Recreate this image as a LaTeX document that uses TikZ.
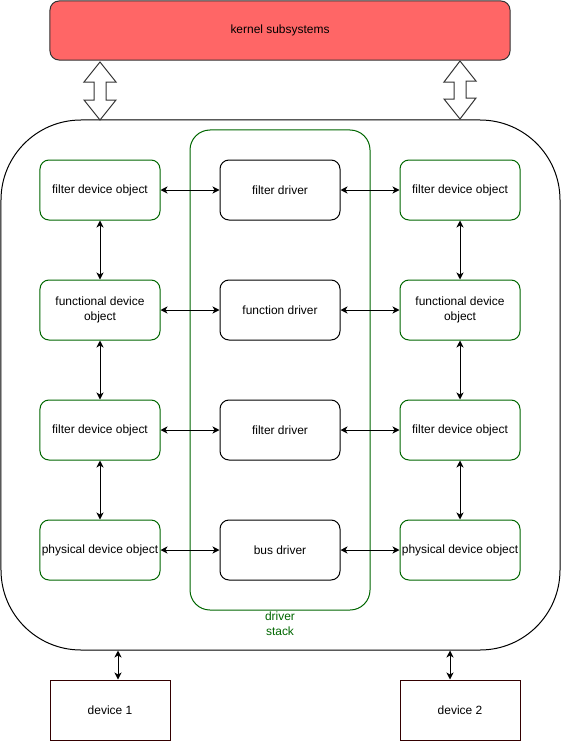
\documentclass[tikz,border=0pt]{standalone}
\usepackage{fontspec}
\setmainfont{Liberation Sans}
\usetikzlibrary{arrows.meta}
\definecolor{kred}{HTML}{FF6666}
\definecolor{dgreen}{HTML}{006600}
\definecolor{dbrown}{HTML}{330000}
\begin{document}
\begin{tikzpicture}[x=1bp,y=-1bp,
  every node/.style={font=\fontsize{12}{14.5}\selectfont, inner sep=0pt, align=center},
  objbox/.style={draw=dgreen, line width=1bp, rounded corners=9bp, minimum width=120bp, minimum height=60bp},
  drvbox/.style={draw=black, line width=1bp, rounded corners=9bp, minimum width=120bp, minimum height=60bp},
  devbox/.style={draw=dbrown, line width=1bp, minimum width=120bp, minimum height=60bp},
  conn/.style={{Stealth[length=7bp,width=7bp,inset=2bp]}-{Stealth[length=7bp,width=7bp,inset=2bp]}, line width=1bp},
  blockarrow/.style={draw=black!80, line width=1bp, fill=white, line join=miter}
]
\useasboundingbox (0,0) rectangle (562,742);

% kernel
\node[draw=black!80, fill=kred, line width=1bp, rounded corners=9bp, minimum width=460bp, minimum height=59bp] (kernel) at (280,30.5) {kernel subsystems};

% host container
\node[draw=black, line width=1bp, rounded corners=80bp, minimum width=559bp, minimum height=530bp] (host) at (280.5,385) {};

% driver stack
\node[draw=dgreen, line width=1bp, rounded corners=20bp, minimum width=180bp, minimum height=480bp] (stack) at (280,370) {};
\node[text=dgreen, anchor=north] (stacklabel) at (280,612) {driver\\stack};

% left column
\node[objbox] (l1) at (100,190) {filter device object};
\node[objbox] (l2) at (100,310) {functional device\\object};
\node[objbox] (l3) at (100,430) {filter device object};
\node[objbox] (l4) at (100,550) {physical device object};

% middle column
\node[drvbox] (m1) at (280,190) {filter driver};
\node[drvbox] (m2) at (280,310) {function driver};
\node[drvbox] (m3) at (280,430) {filter driver};
\node[drvbox] (m4) at (280,550) {bus driver};

% right column
\node[objbox] (r1) at (460,190) {filter device object};
\node[objbox] (r2) at (460,310) {functional device\\object};
\node[objbox] (r3) at (460,430) {filter device object};
\node[objbox] (r4) at (460,550) {physical device object};

% devices
\node[devbox] (d1) at (110,710) {device 1};
\node[devbox] (d2) at (460,710) {device 2};

% horizontal connectors
\foreach \i in {1,2,3,4} {
  \draw[conn] (l\i.east) -- (m\i.west);
  \draw[conn] (m\i.east) -- (r\i.west);
}
% vertical connectors
\foreach \i/\j in {1/2,2/3,3/4} {
  \draw[conn] (l\i.south) -- (l\j.north);
  \draw[conn] (r\i.south) -- (r\j.north);
}

% device connectors
\draw[conn] ([xshift=8bp]d1.north) -- ([xshift=8bp]d1.north |- host.south);
\draw[conn] ([xshift=-10bp]d2.north) -- ([xshift=-10bp]d2.north |- host.south);

% block arrows between kernel and host
\coordinate (ka) at (100,62);
\coordinate (kb) at (460,61);
\draw[blockarrow] (ka) -- ++(16,20) -- ++(-10,0) -- ++(0,18) -- ++(10,0) -- (100,120) -- ++(-16,-20) -- ++(10,0) -- ++(0,-18) -- ++(-10,0) -- cycle;
\draw[blockarrow] (kb) -- ++(16,20) -- ++(-10,0) -- ++(0,17) -- ++(10,0) -- (460,119) -- ++(-16,-20) -- ++(10,0) -- ++(0,-17) -- ++(-10,0) -- cycle;
\end{tikzpicture}
\end{document}
